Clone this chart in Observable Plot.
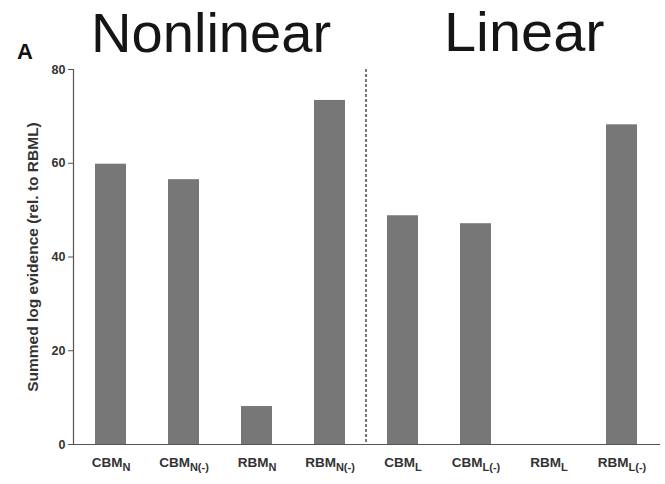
<!DOCTYPE html>
<html><head><meta charset="utf-8">
<script src="https://cdn.jsdelivr.net/npm/d3@7"></script>
<script src="https://cdn.jsdelivr.net/npm/@observablehq/plot@0.6"></script>
<style>
body{margin:0;background:#fff;font-family:"Liberation Sans",Arial,sans-serif;}
#wrap{position:relative;width:665px;height:484px;overflow:hidden;}
.title{position:absolute;font-size:55px;line-height:55px;color:#151515;white-space:nowrap;}
#panel{position:absolute;left:17px;top:41px;font-weight:bold;font-size:22px;line-height:22px;color:#111;}
#chart{position:absolute;left:0;top:60px;}
</style></head><body>
<div id="wrap">
<div class="title" style="left:91px;top:6px;transform:scaleX(1.02);transform-origin:left">Nonlinear</div>
<div class="title" style="left:444px;top:5px;transform:scaleX(1.05);transform-origin:left">Linear</div>
<div id="panel">A</div>
<div id="chart"></div>
</div>
<script>
const models = ["CBM_N", "CBM_N(-)", "RBM_N", "RBM_N(-)", "CBM_L", "CBM_L(-)", "RBM_L", "RBM_L(-)"];
const evidence = [59.8, 56.5, 8.1, 73.4, 48.8, 47.1, 0, 68.2];
const yTicks = [0, 20, 40, 60, 80];
const yLabel = "Summed log evidence (rel. to RBML)";
const dividerBefore = "CBM_L";

const data = models.map((m, i) => ({model: m, value: evidence[i]}));

const plot = Plot.plot({
  width: 665,
  height: 424,
  marginTop: 9,
  marginLeft: 73,
  marginRight: 5,
  marginBottom: 40,
  style: {fontFamily: '"Liberation Sans", Arial, sans-serif', background: "white", color: "#222"},
  x: {domain: models, paddingInner: 0.57, paddingOuter: 0.3, label: null},
  y: {domain: [0, 80], ticks: yTicks, label: yLabel},
  marks: [
    Plot.barY(data, {x: "model", y: "value", fill: "#777"}),
    Plot.frame({anchor: "left", stroke: "#555", strokeWidth: 1.2}),
    Plot.ruleY([0], {stroke: "#555", strokeWidth: 1.2}),
    Plot.axisY({ticks: yTicks, tickSize: 5, tickPadding: 3, fontSize: 12.5, fontWeight: "bold",
      label: yLabel, labelAnchor: "center", labelArrow: "none", labelOffset: 47}),
    Plot.axisX({tickSize: 0, tickPadding: 13, fontSize: 13.5, fontWeight: "bold"})
  ]
});
document.getElementById("chart").appendChild(plot);

const svg = d3.select(plot);
svg.selectAll('g[aria-label="y-axis label"] text').attr("font-size", 15.5).attr("font-weight", "bold").attr("fill", "#333");
svg.selectAll('g[aria-label="y-axis tick label"] text').attr("fill", "#333");
svg.selectAll('g[aria-label="y-axis tick"] path').attr("stroke", "#555");

// subscripts on x tick labels
svg.selectAll('g[aria-label="x-axis tick label"] text').each(function () {
  const t = d3.select(this);
  const s = t.text();
  const [base, sub] = s.split("_");
  t.text(null).attr("fill", "#333");
  t.append("tspan").text(base);
  if (sub) t.append("tspan").attr("dy", "0.35em").attr("font-size", 11).text(sub);
});

// dashed divider between groups, through the library's scales
const xs = plot.scale("x"), ys = plot.scale("y");
const xd = xs.apply(dividerBefore) - (xs.step - xs.bandwidth) / 2;
svg.append("line")
  .attr("x1", xd).attr("x2", xd)
  .attr("y1", ys.apply(80)).attr("y2", ys.apply(0))
  .attr("stroke", "#333").attr("stroke-width", 1.3).attr("stroke-dasharray", "3,2");
</script>
</body></html>
